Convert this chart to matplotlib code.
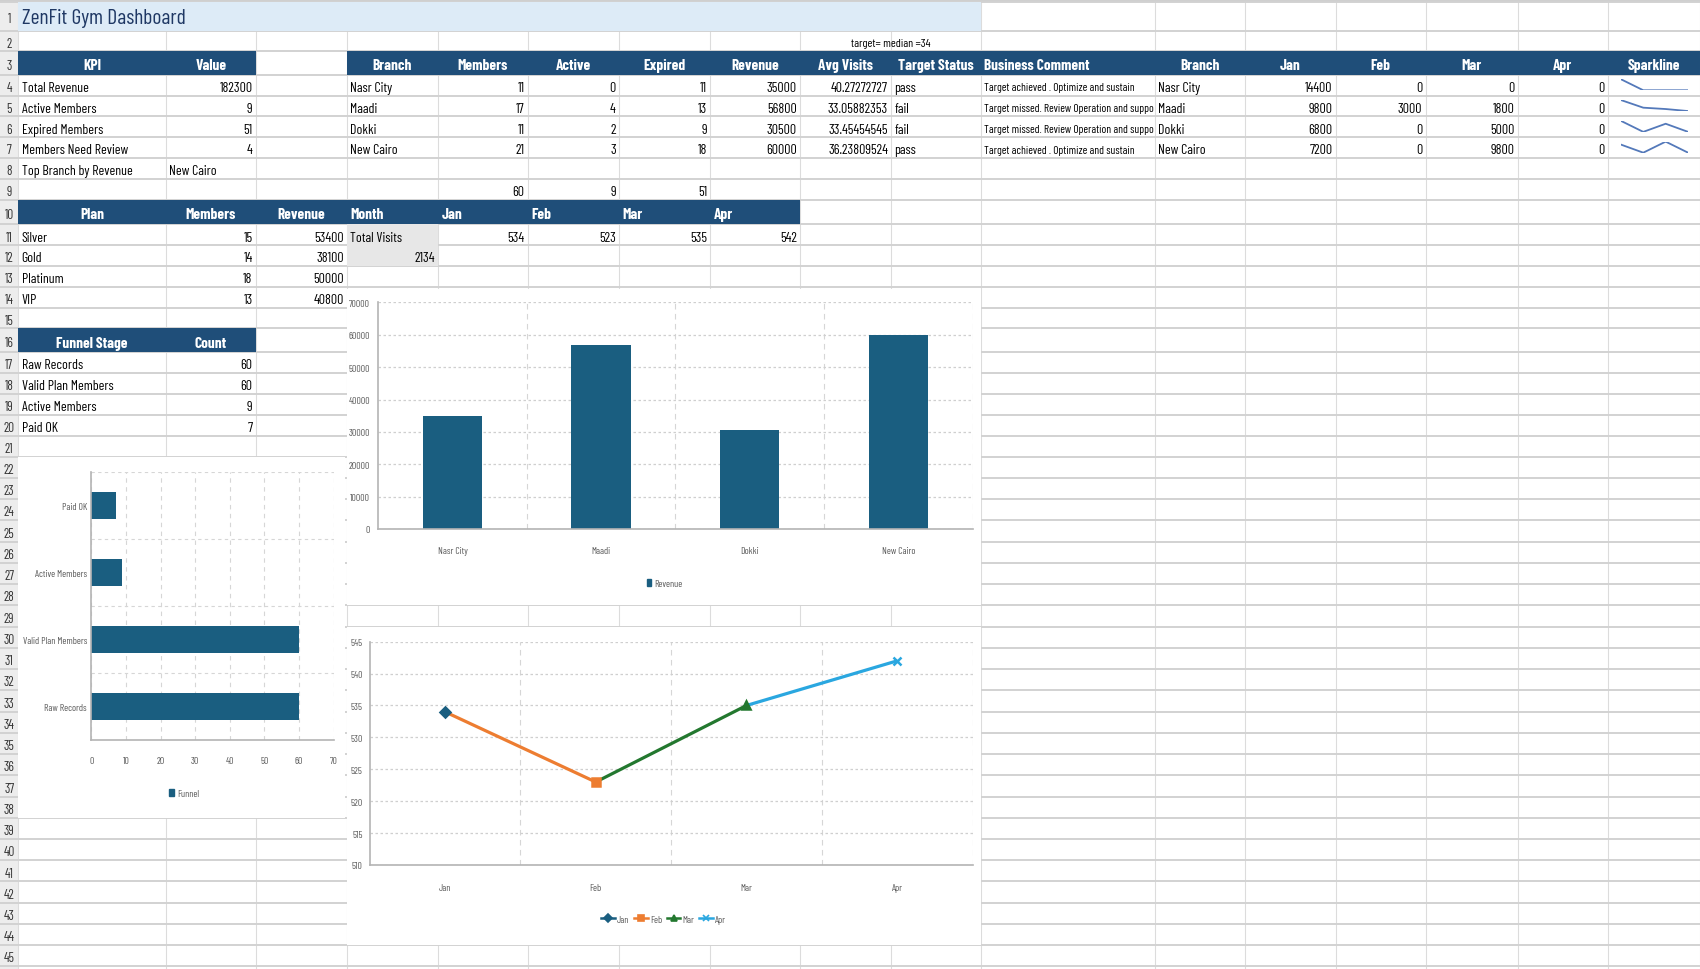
import numpy as np
import matplotlib.pyplot as plt
from matplotlib.patches import Rectangle, Patch
from matplotlib.lines import Line2D

# narrow face like the sheet's; DejaVu Sans Condensed if Barlow is missing
plt.rcParams['font.family'] = ['Barlow Condensed', 'DejaVu Sans']
plt.rcParams['font.stretch'] = 'condensed'

# ---- data (read from the sheet) ----
kpi_names = ['Total Revenue', 'Active Members', 'Expired Members',
             'Members Need Review', 'Top Branch by Revenue']
kpi_values = [182300, 9, 51, 4, 'New Cairo']

branches = ['Nasr City', 'Maadi', 'Dokki', 'New Cairo']
br_members = [11, 17, 11, 21]
br_active = [0, 4, 2, 3]
br_expired = [11, 13, 9, 18]
br_revenue = [35000, 56800, 30500, 60000]
br_avg_visits = ['40.27272727', '33.05882353', '33.45454545', '36.23809524']
br_status = ['pass', 'fail', 'fail', 'pass']
# as shown in the cell (cut off by the next column)
br_comment = ['Target achieved . Optimize and sustain',
              'Target missed. Review Operation and suppo',
              'Target missed. Review Operation and suppo',
              'Target achieved . Optimize and sustain']
col_totals = [60, 9, 51]

rev_jan = [14400, 9800, 6800, 7200]
rev_feb = [0, 3000, 0, 0]
rev_mar = [0, 1800, 5000, 9800]
rev_apr = [0, 0, 0, 0]

plans = ['Silver', 'Gold', 'Platinum', 'VIP']
plan_members = [15, 14, 18, 13]
plan_revenue = [53400, 38100, 50000, 40800]

months = ['Jan', 'Feb', 'Mar', 'Apr']
visits = [534, 523, 535, 542]
total_visits = 2134

funnel_stages = ['Raw Records', 'Valid Plan Members', 'Active Members', 'Paid OK']
funnel_counts = [60, 60, 9, 7]

# ---- look ----
HDR = '#1F4E79'
BAR = '#1A5E80'
month_colors = ['#1A5E80', '#ED7D31', '#23782F', '#2AA7E0']
month_markers = ['D', 's', '^', 'x']
TICK = '#595959'
CELL_FS = 10
TICK_FS = 7

# sheet geometry (pixels of the screenshot, 1568 x 895 grid)
W, H = 1568.0, 895.0
col_x = [17, 153, 236, 320, 404, 487, 571, 655, 738, 822, 905,
         1065, 1148, 1232, 1315, 1400, 1483, 1568]
row_h = [27, 18.5, 22] + [19.2] * 6 + [22.8] + [19.2] * 5 + [22] + [19.25] * 5 + [19.6] * 24
row_y = np.concatenate([[2.5], 2.5 + np.cumsum(row_h)])

fig = plt.figure(figsize=(17, 9.7), dpi=100)
bg = fig.add_axes([0, 0, 1, 1])
bg.set_xlim(0, W)
bg.set_ylim(H, 0)
bg.axis('off')


def frect(x0, y0, x1, y1):
    return [x0 / W, 1 - y1 / H, (x1 - x0) / W, (y1 - y0) / H]


def box(r, c):
    return col_x[c], col_x[c + 1], row_y[r - 1], row_y[r]


def fill(r0, r1, c0, c1, color):
    x0, y0 = col_x[c0], row_y[r0 - 1]
    x1, y1 = col_x[c1 + 1], row_y[r1]
    bg.add_patch(Rectangle((x0, y0), x1 - x0, y1 - y0, color=color, zorder=2, lw=0))


def put(r, c, s, ha='left', size=CELL_FS, color='black', **kw):
    x0, x1, y0, y1 = box(r, c)
    x = {'left': x0 + 3, 'right': x1 - 3, 'center': (x0 + x1) / 2}[ha]
    bg.text(x, (y0 + y1) / 2 + 2, str(s), ha=ha, va='center',
            fontsize=size, color=color, zorder=5, **kw)


def head(r, c, s, ha='center'):
    put(r, c, s, ha=ha, size=11, color='white', fontweight='bold')


# grid + row numbers
bg.add_patch(Rectangle((0, 0), 17, H, color='#ededed', zorder=0, lw=0))
bg.add_patch(Rectangle((0, 0), W, 2.5, color='#cfcfcf', zorder=0, lw=0))
bg.vlines(col_x, 2.5, H, color='#dcdcdc', lw=0.8, zorder=1)
bg.hlines(row_y, 0, W, color='#d2d2d2', lw=1.4, zorder=1)
for r in range(1, 46):
    bg.text(8.5, (row_y[r - 1] + row_y[r]) / 2 + 2, str(r), ha='center', va='center',
            fontsize=9.5, color='#333333', zorder=5)

# title
fill(1, 1, 0, 9, '#DDEBF7')
bg.text(col_x[0] + 3, (row_y[0] + row_y[1]) / 2 + 1.5, 'ZenFit Gym Dashboard',
        ha='left', va='center', fontsize=15.5, color='#1F3864', zorder=5)
bg.text((col_x[8] + col_x[10]) / 2, (row_y[1] + row_y[2]) / 2 + 1.5, 'target= median =34',
        ha='center', va='center', fontsize=8.5, color='black', zorder=5)

# KPI table
fill(3, 3, 0, 1, HDR)
head(3, 0, 'KPI')
head(3, 1, 'Value')
for i, (n, v) in enumerate(zip(kpi_names, kpi_values)):
    put(4 + i, 0, n)
    put(4 + i, 1, v, ha='left' if isinstance(v, str) else 'right')

# branch table + monthly revenue
fill(3, 3, 3, 16, HDR)
for c, s in zip(range(3, 10), ['Branch', 'Members', 'Active', 'Expired',
                               'Revenue', 'Avg Visits', 'Target Status']):
    head(3, c, s)
head(3, 10, 'Business Comment', ha='left')
for c, s in zip(range(11, 17), ['Branch'] + months + ['Sparkline']):
    head(3, c, s)

for i, b in enumerate(branches):
    r = 4 + i
    put(r, 3, b)
    put(r, 4, br_members[i], ha='right')
    put(r, 5, br_active[i], ha='right')
    put(r, 6, br_expired[i], ha='right')
    put(r, 7, br_revenue[i], ha='right')
    put(r, 8, br_avg_visits[i], ha='right')
    put(r, 9, br_status[i])
    put(r, 10, br_comment[i], size=8.2)
    put(r, 11, b)
    for k, series in enumerate([rev_jan, rev_feb, rev_mar, rev_apr]):
        put(r, 12 + k, series[i], ha='right')

    # sparkline
    x0, x1, y0, y1 = box(r, 16)
    sp = fig.add_axes(frect(x0 + 12, y0 + 4, x1 - 11, y1 - 5))
    sp.plot(months, [rev_jan[i], rev_feb[i], rev_mar[i], rev_apr[i]],
            color='#5479BA', lw=1.3)
    sp.margins(0, 0)
    sp.axis('off')

for k, v in enumerate(col_totals):
    put(9, 4 + k, v, ha='right')

# plan table + visits
fill(10, 10, 0, 7, HDR)
head(10, 0, 'Plan')
head(10, 1, 'Members')
head(10, 2, 'Revenue')
head(10, 3, 'Month', ha='left')
for k, m in enumerate(months):
    head(10, 4 + k, m, ha='left')
for i, p in enumerate(plans):
    put(11 + i, 0, p)
    put(11 + i, 1, plan_members[i], ha='right')
    put(11 + i, 2, plan_revenue[i], ha='right')
fill(11, 12, 3, 3, '#E7E7E7')
put(11, 3, 'Total Visits')
put(12, 3, total_visits, ha='right')
for k, v in enumerate(visits):
    put(11, 4 + k, v, ha='right')

# funnel table
fill(16, 16, 0, 1, HDR)
head(16, 0, 'Funnel Stage')
head(16, 1, 'Count')
for i, (s, n) in enumerate(zip(funnel_stages, funnel_counts)):
    put(17 + i, 0, s)
    put(17 + i, 1, n, ha='right')

# chart areas
for (x0, y0, x1, y1) in [(17, 422.5, 318, 755.5), (320, 267.5, 905, 559.5), (320, 579.5, 905, 872.5)]:
    bg.add_patch(Rectangle((x0, y0), x1 - x0, y1 - y0, color='white', zorder=3, lw=0))


def style(ax):
    for s in ['top', 'right']:
        ax.spines[s].set_visible(False)
    for s in ['left', 'bottom']:
        ax.spines[s].set_color('#B4B4B4')
        ax.spines[s].set_linewidth(1.2)
    ax.tick_params(which='both', length=0, labelsize=TICK_FS, labelcolor=TICK)
    ax.set_axisbelow(True)


def small_legend(handles, cx, cy, **kw):
    fig.legend(handles=handles, loc='center', bbox_to_anchor=(cx / W, 1 - cy / H),
               frameon=False, fontsize=TICK_FS, labelcolor=TICK, **kw)


# funnel bar chart
fa = fig.add_axes(frect(84.2, 436.5, 307.7, 684))
ypos = np.arange(len(funnel_stages))
fa.barh(ypos, funnel_counts, height=0.4, color=BAR)
fa.set_xlim(0, 70)
fa.set_xticks(range(0, 71, 10))
fa.set_ylim(-0.5, 3.5)
fa.set_yticks(ypos, funnel_stages)
fa.set_yticks(np.arange(-0.5, 4, 1), minor=True)
fa.grid(axis='x', which='major', ls=(0, (4, 4)), color='#D6D6D6', lw=0.8)
fa.grid(axis='y', which='minor', ls=(0, (3, 3)), color='#D6D6D6', lw=0.8)
style(fa)
fa.tick_params(axis='x', pad=11)
fa.tick_params(axis='y', pad=3)
small_legend([Patch(color=BAR, label='Funnel')], 170, 733,
             handlelength=0.5, handleheight=0.8, handletextpad=0.3)

# revenue by branch
ra = fig.add_axes(frect(349, 280, 897, 489))
xpos = np.arange(len(branches))
ra.bar(xpos, br_revenue, width=0.4, color=BAR)
ra.set_xlim(-0.5, 3.5)
ra.set_ylim(0, 70000)
ra.set_yticks(range(0, 70001, 10000))
ra.set_xticks(xpos, branches)
ra.set_xticks(np.arange(0.5, 4, 1), minor=True)
ra.grid(axis='y', which='major', ls=(0, (2, 2)), color='#CFCFCF', lw=0.9)
ra.grid(axis='x', which='minor', ls=(0, (5, 4)), color='#D6D6D6', lw=0.8)
style(ra)
ra.tick_params(axis='x', pad=12)
ra.tick_params(axis='y', pad=6)
small_legend([Patch(color=BAR, label='Revenue')], 613, 539,
             handlelength=0.5, handleheight=0.8, handletextpad=0.3)

# visits per month
la = fig.add_axes(frect(341, 593, 897, 799))
mpos = np.arange(len(months))
for i in range(1, len(months)):
    la.plot(mpos[i - 1:i + 1], visits[i - 1:i + 1], color=month_colors[i], lw=2.3,
            solid_capstyle='butt', zorder=3)
for i in range(len(months)):
    la.plot(mpos[i], visits[i], marker=month_markers[i], color=month_colors[i],
            ms=5.5, mew=1.8, ls='none', zorder=4)
la.set_xlim(-0.5, 3.5)
la.set_ylim(510, 545)
la.set_yticks(range(510, 546, 5))
la.set_xticks(mpos, months)
la.set_xticks(np.arange(0.5, 4, 1), minor=True)
la.grid(axis='y', which='major', ls=(0, (2, 2)), color='#CFCFCF', lw=0.9)
la.grid(axis='x', which='minor', ls=(0, (5, 4)), color='#D6D6D6', lw=0.8)
style(la)
la.tick_params(axis='x', pad=13)
la.tick_params(axis='y', pad=5)
handles = [Line2D([], [], color=c, marker=m, ms=4, lw=1.8, mew=1.2, label=n)
           for c, m, n in zip(month_colors, month_markers, months)]
small_legend(handles, 612, 849, ncol=4, handlelength=1.4, handletextpad=0.2,
             columnspacing=0.5)

fig.savefig('out.png', dpi=100)
